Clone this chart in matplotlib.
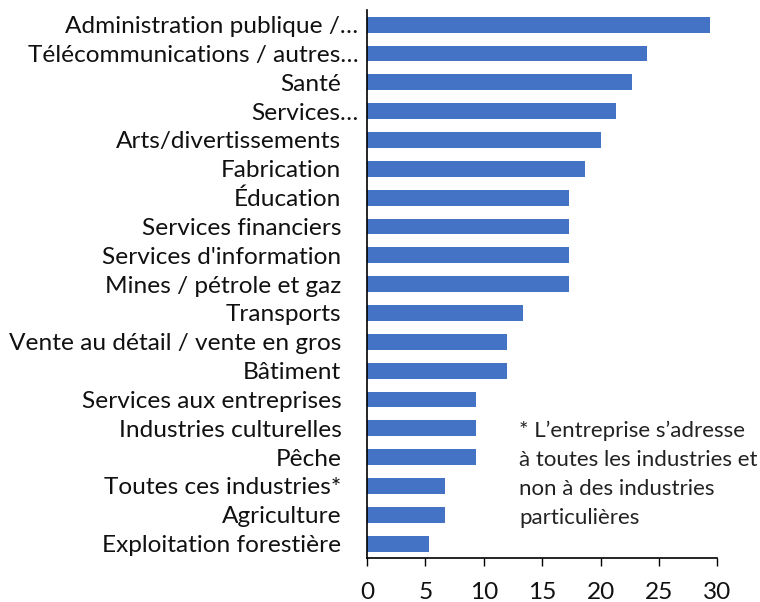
import matplotlib.pyplot as plt
from matplotlib.transforms import ScaledTranslation

plt.rcParams['font.family'] = ['Lato', 'DejaVu Sans']

# catégories (du haut vers le bas) et valeurs (%)
categories = [
    "Administration publique /…", "Télécommunications / autres…", "Santé",
    "Services…", "Arts/divertissements", "Fabrication", "Éducation",
    "Services financiers", "Services d'information", "Mines / pétrole et gaz",
    "Transports", "Vente au détail / vente en gros", "Bâtiment",
    "Services aux entreprises", "Industries culturelles", "Pêche",
    "Toutes ces industries*", "Agriculture", "Exploitation forestière",
]
values = [29.33, 24.0, 22.67, 21.33, 20.0, 18.67, 17.33, 17.33, 17.33, 17.33,
          13.33, 12.0, 12.0, 9.33, 9.33, 9.33, 6.67, 6.67, 5.33]
xticks = [0, 5, 10, 15, 20, 25, 30]
note = "* L’entreprise s’adresse\nà toutes les industries et\nnon à des industries\nparticulières"

fig = plt.figure(figsize=(7.6, 6.02), dpi=100)
ax = fig.add_axes([0.483, 0.073, 0.461, 0.910])

ypos = list(range(len(categories)))
ax.barh(ypos, values, height=0.55, color='#4472C4')
ax.set_ylim(len(categories) - 0.5, -0.5)
ax.set_xlim(0, 30)

ax.set_yticks(ypos)
ax.set_yticklabels(categories, fontsize=17.6, color='#111111')
ax.tick_params(axis='y', length=0, pad=18.5)
ax.set_xticks(xticks)
ax.set_xticklabels([str(t) for t in xticks], fontsize=17.6, color='#111111')
ax.tick_params(axis='x', length=6, width=1, direction='out', pad=11)

# les libellés tronqués (…) sont plus proches de l'axe
for lab in ax.get_yticklabels():
    if lab.get_text().endswith("…"):
        lab.set_transform(lab.get_transform() + ScaledTranslation(0.17, 0, fig.dpi_scale_trans))

for s in ['top', 'right']:
    ax.spines[s].set_visible(False)
for s in ['left', 'bottom']:
    ax.spines[s].set_linewidth(1.2)
    ax.spines[s].set_color('black')

fig.text(519 / 760, 1 - 421 / 602, note, fontsize=16, va='top', ha='left',
         linespacing=1.55, color='#222222')

plt.savefig('out.png', dpi=100)
